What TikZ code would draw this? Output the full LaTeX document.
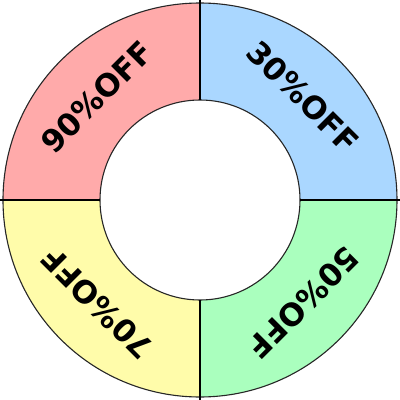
\documentclass[tikz,border=0pt]{standalone}
\usepackage{fontspec}
\setmainfont{DejaVu Sans}
\usetikzlibrary{positioning}
\definecolor{segred}{RGB}{255,170,170}
\definecolor{segblue}{RGB}{170,215,255}
\definecolor{seggreen}{RGB}{170,255,190}
\definecolor{segyellow}{RGB}{255,252,170}
\tikzset{
  ring/.style={draw=black!85, line width=1.1pt},
  divider/.style={draw=black, line width=2.6pt},
  offlbl/.style={font=\bfseries\fontsize{31}{31}\selectfont, inner sep=0pt},
}

\begin{document}
\begin{tikzpicture}[x=1pt, y=1pt]
  \useasboundingbox (-200,-200) rectangle (200,200);

  % four quarters of the ring
  \foreach \a/\c in {90/segred, 0/segblue, -90/seggreen, 180/segyellow}
    \fill[\c] (\a:197) arc (\a:\a+90:197) -- (\a+90:100) arc (\a+90:\a:100) -- cycle;

  \draw[ring] (0,0) circle (197);
  \draw[ring] (0,0) circle (100);

  % the cross
  \coordinate (top) at (0,200);
  \coordinate (bot) at (0,-200);
  \coordinate (lft) at (-200,0);
  \coordinate (rgt) at (200,0);
  \draw[divider] (top) -- (0,100);
  \draw[divider] (bot) -- (0,-100);
  \draw[divider] (lft) -- (-100,0);
  \draw[divider] (rgt) -- (100,0);

  \node[offlbl, rotate=45] (off90) at (135:146) {90\%OFF};
  \node[offlbl, rotate=-45] (off30) at (45:146) {30\%OFF};
  \node[offlbl, rotate=-135] (off50) at (-45:146) {50\%OFF};
  \node[offlbl, rotate=135] (off70) at (225:146) {70\%OFF};

\end{tikzpicture}
\end{document}
